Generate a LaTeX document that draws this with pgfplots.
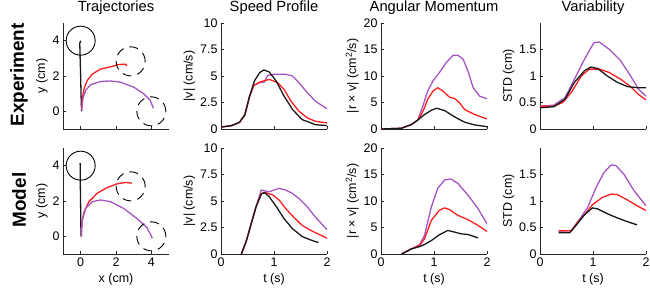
\documentclass[border=0pt]{standalone}
\usepackage{fontspec}
\setmainfont{Liberation Sans}
\usepackage{pgfplots}
\pgfplotsset{compat=1.18}
\definecolor{mred}{RGB}{250,30,30}
\definecolor{mpurp}{RGB}{165,85,195}
\definecolor{mblk}{RGB}{25,25,25}
\newcommand{\fs}{\fontsize{12.5}{14}\selectfont}
\newcommand{\ft}{\fontsize{14.8}{17}\selectfont}
\pgfplotsset{
  base/.style={scale only axis, width=106bp, height=106bp,
    axis x line*=bottom, axis y line*=left,
    axis line style={-, black!85, line width=0.7bp},
    tick align=inside, major tick length=3bp,
    tick style={black!85, line width=0.7bp},
    tick label style={font=\fs}, label style={font=\fs},
    title style={font=\ft, anchor=base, at={(0.5,1)}, yshift=5.5bp},
    every axis plot/.append style={line width=1.3bp},
    /pgf/number format/assume math mode=true,
    ylabel style={yshift=-2bp}},
  traj/.style={base, xmin=-1, xmax=5, ymin=-1, ymax=5, xtick={0,2,4}, ytick={0,2,4}, ylabel={y (cm)}},
  spd/.style={base, xmin=0, xmax=2, ymin=0, ymax=10, xtick={0,1,2}, ytick={0,2.5,5,7.5,10}, ylabel={|v| (cm/s)}},
  ang/.style={base, xmin=0, xmax=2, ymin=0, ymax=20, xtick={0,1,2}, ytick={0,5,10,15,20}, ylabel={|r × v| (cm\textsuperscript{2}/s)}},
  var/.style={base, xmin=0, xmax=2, ymin=0, ymax=2, xtick={0,1,2}, ytick={0,0.5,1,1.5}, ylabel={STD (cm)}},
  tgt/.style={only marks, mark=o, mark size=14.5bp, mark options={black, line width=0.9bp}},
  tgtd/.style={only marks, mark=o, mark size=14.5bp, mark options={black, line width=0.9bp, dash pattern=on 9bp off 6bp}},
}
\begin{document}
\begin{tikzpicture}
\useasboundingbox (0,0) rectangle (650bp,289bp);
\node[rotate=90, font=\bfseries\fontsize{19}{22}\selectfont] at (19bp,214bp) {Experiment};
\node[rotate=90, font=\bfseries\fontsize{19}{22}\selectfont] at (19bp,89bp) {Model};
% ---------- Experiment row ----------
\begin{axis}[traj, at={(63bp,160bp)}, anchor=south west, title={Trajectories}, xticklabels={}]
\addplot[tgt] coordinates {(0,4)};
\addplot[tgtd] coordinates {(2.83,2.83)};
\addplot[tgtd] coordinates {(4,0)};
\addplot[mblk] coordinates {(0.05,0) (0.02,1) (0,2) (-0.03,3) (-0.05,3.85) (-0.02,3.95) (0.02,3.9)};
\addplot[mred] coordinates {(0.056,0.07) (0.09,0.72) (0.19,1.28) (0.37,1.74) (0.66,2.11) (1.12,2.39) (1.69,2.52) (2.15,2.65) (2.53,2.67) (2.62,2.57)};
\addplot[mpurp] coordinates {(0.056,0.07) (0.13,0.72) (0.28,1.19) (0.56,1.5) (1.12,1.69) (1.69,1.72) (2.25,1.65) (3.0,1.37) (3.56,1.0) (3.93,0.63) (4.12,0.17)};
\end{axis}
\begin{axis}[spd, at={(221bp,160bp)}, anchor=south west, title={Speed Profile}, xticklabels={}]
\addplot[mpurp] coordinates {(0.01,0.19) (0.2,0.32) (0.35,0.63) (0.45,1.36) (0.54,3.1) (0.62,4.11) (0.73,4.37) (0.82,4.43) (0.88,5.06) (1.0,5.16) (1.22,5.16) (1.35,5.0) (1.47,4.37) (1.63,3.42) (1.78,2.63) (2.0,1.9)};
\addplot[mred] coordinates {(0.01,0.19) (0.2,0.32) (0.35,0.63) (0.45,1.3) (0.54,3.1) (0.62,4.11) (0.73,4.43) (0.91,4.68) (1.07,4.37) (1.19,3.73) (1.32,2.63) (1.47,1.68) (1.63,1.04) (1.78,0.73) (2.0,0.57)};
\addplot[mblk] coordinates {(0.01,0.19) (0.2,0.32) (0.35,0.63) (0.45,1.36) (0.54,3.1) (0.63,4.53) (0.73,5.32) (0.81,5.57) (0.91,5.38) (1.04,4.53) (1.19,3.1) (1.35,1.84) (1.53,0.89) (1.78,0.41) (2.0,0.32)};
\end{axis}
\begin{axis}[ang, at={(381bp,160bp)}, anchor=south west, title={Angular Momentum}, xticklabels={}]
\addplot[mpurp] coordinates {(0,0) (0.38,0.13) (0.57,0.82) (0.69,1.65) (0.79,4.3) (0.88,7.15) (0.98,9.05) (1.1,10.63) (1.23,12.53) (1.36,13.92) (1.45,13.92) (1.55,13.16) (1.64,10.95) (1.74,7.78) (1.86,6.2) (2.0,5.7)};
\addplot[mred] coordinates {(0,0) (0.38,0.13) (0.57,0.82) (0.69,1.65) (0.76,2.72) (0.82,3.99) (0.88,5.57) (0.98,7.15) (1.07,7.78) (1.17,7.15) (1.29,6.01) (1.39,5.76) (1.48,4.94) (1.58,3.67) (1.77,2.72) (2.0,1.9)};
\addplot[mblk] coordinates {(0,0) (0.38,0.13) (0.57,0.82) (0.69,1.65) (0.82,2.72) (0.95,3.54) (1.05,3.92) (1.2,3.48) (1.39,2.28) (1.58,1.27) (1.77,0.76) (2.0,0.44)};
\end{axis}
\begin{axis}[var, at={(540bp,160bp)}, anchor=south west, title={Variability}, xticklabels={}]
\addplot[mpurp] coordinates {(0,0.43) (0.26,0.45) (0.47,0.59) (0.65,0.94) (0.81,1.26) (0.93,1.48) (1.02,1.63) (1.12,1.64) (1.3,1.51) (1.52,1.29) (1.71,1.0) (1.86,0.75) (2.0,0.62)};
\addplot[mred] coordinates {(0,0.43) (0.26,0.43) (0.43,0.5) (0.59,0.69) (0.78,1.0) (0.93,1.13) (1.12,1.13) (1.3,1.07) (1.52,0.94) (1.71,0.8) (1.86,0.65) (2.0,0.55)};
\addplot[mblk] coordinates {(0,0.4) (0.26,0.42) (0.47,0.56) (0.65,0.88) (0.84,1.1) (0.96,1.17) (1.09,1.14) (1.27,1.0) (1.46,0.88) (1.65,0.8) (1.83,0.78) (2.0,0.78)};
\end{axis}
% ---------- Model row ----------
\begin{axis}[traj, at={(63bp,35bp)}, anchor=south west, xlabel={x (cm)}]
\addplot[tgt] coordinates {(0,4)};
\addplot[tgtd] coordinates {(2.83,2.83)};
\addplot[tgtd] coordinates {(4,0)};
\addplot[mblk] coordinates {(0.02,0) (0,1.5) (-0.02,3) (-0.03,4.15)};
\addplot[mred] coordinates {(0.04,0) (0.06,0.72) (0.19,1.39) (0.47,1.96) (0.94,2.44) (1.5,2.76) (2.06,2.97) (2.53,3.05) (2.9,3.01)};
\addplot[mpurp] coordinates {(0.04,0) (0.09,0.91) (0.28,1.58) (0.66,1.96) (1.12,2.06) (1.69,1.96) (2.43,1.58) (3.18,1.01) (3.75,0.5) (4.06,-0.1)};
\end{axis}
\begin{axis}[spd, at={(221bp,35bp)}, anchor=south west, xlabel={t (s)}]
\addplot[mpurp] coordinates {(0.385,0) (0.48,1.27) (0.57,2.86) (0.66,4.44) (0.76,6.03) (0.82,5.97) (0.91,5.87) (1.0,6.03) (1.1,6.19) (1.22,6.03) (1.35,5.71) (1.47,5.24) (1.63,4.44) (1.78,3.49) (2.0,2.29)};
\addplot[mred] coordinates {(0.385,0) (0.48,1.27) (0.57,2.86) (0.66,4.44) (0.76,5.71) (0.85,5.78) (0.98,5.56) (1.1,5.08) (1.22,4.29) (1.38,3.43) (1.53,2.7) (1.72,2.16) (2.0,1.49)};
\addplot[mblk] coordinates {(0.385,0) (0.48,1.27) (0.57,2.86) (0.66,4.44) (0.76,5.65) (0.82,5.81) (0.91,5.4) (1.04,4.5) (1.19,3.33) (1.35,2.38) (1.53,1.65) (1.72,1.27) (1.84,1.08)};
\end{axis}
\begin{axis}[ang, at={(381bp,35bp)}, anchor=south west, xlabel={t (s)}]
\addplot[mpurp] coordinates {(0.39,0) (0.57,0.95) (0.73,1.78) (0.82,3.49) (0.95,8.89) (1.07,12.38) (1.2,13.97) (1.32,14.16) (1.45,13.33) (1.64,11.11) (1.83,8.57) (2.0,5.71)};
\addplot[mred] coordinates {(0.39,0) (0.57,0.95) (0.73,1.59) (0.82,2.86) (0.95,6.35) (1.1,8.25) (1.2,8.7) (1.29,8.38) (1.45,7.3) (1.64,6.48) (1.83,5.4) (2.0,4.25)};
\addplot[mblk] coordinates {(0.39,0) (0.57,0.95) (0.73,1.4) (0.82,1.78) (0.95,2.54) (1.1,3.62) (1.26,4.44) (1.39,4.13) (1.51,3.81) (1.64,3.68) (1.83,3.05)};
\end{axis}
\begin{axis}[var, at={(540bp,35bp)}, anchor=south west, xlabel={t (s)}]
\addplot[mpurp] coordinates {(0.35,0.43) (0.59,0.44) (0.75,0.66) (0.9,0.88) (1.06,1.26) (1.21,1.54) (1.34,1.68) (1.43,1.67) (1.58,1.51) (1.77,1.2) (2.0,0.91)};
\addplot[mred] coordinates {(0.35,0.44) (0.59,0.44) (0.71,0.6) (0.84,0.74) (0.99,0.93) (1.18,1.07) (1.34,1.13) (1.46,1.12) (1.65,1.02) (1.83,0.91) (2.0,0.82)};
\addplot[mblk] coordinates {(0.35,0.4) (0.56,0.4) (0.68,0.54) (0.84,0.74) (0.99,0.87) (1.09,0.85) (1.27,0.76) (1.46,0.68) (1.65,0.61) (1.83,0.55)};
\end{axis}
\end{tikzpicture}
\end{document}
